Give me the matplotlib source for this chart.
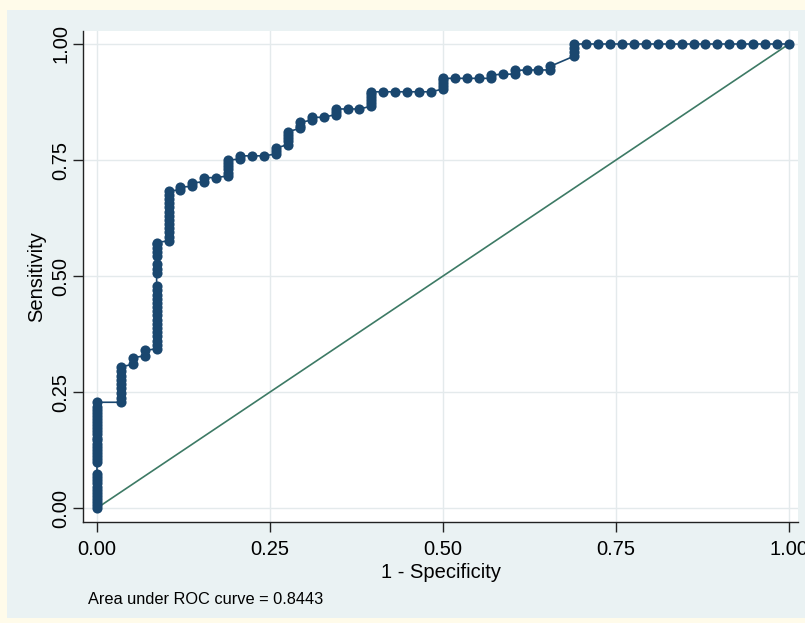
import matplotlib
matplotlib.use("Agg")
import matplotlib.pyplot as plt
from matplotlib.patches import Rectangle

# ---- data ----
fpr = (
    [0.0] * 32
    + [2/58] * 9
    + [3/58] * 2
    + [4/58] * 2
    + [5/58] * 24
    + [6/58] * 13
    + [7/58] * 2
    + [8/58] * 2
    + [9/58] * 2
    + [10/58]
    + [11/58] * 6
    + [12/58] * 2
    + [13/58, 14/58]
    + [15/58] * 3
    + [16/58] * 5
    + [17/58] * 3
    + [18/58] * 2
    + [19/58]
    + [20/58] * 3
    + [21/58, 22/58]
    + [23/58] * 6
    + [24/58, 25/58, 26/58, 27/58, 28/58]
    + [29/58] * 5
    + [30/58, 31/58, 32/58]
    + [33/58] * 2
    + [34/58]
    + [35/58] * 2
    + [36/58, 37/58]
    + [38/58] * 2
    + [40/58] * 4
    + [41/58, 42/58, 43/58, 44/58, 45/58, 46/58, 47/58, 48/58, 49/58,
       50/58, 51/58, 52/58, 53/58, 54/58, 55/58, 56/58, 57/58, 1.0]
)
tpr = (
    [0.000, 0.007, 0.013, 0.020, 0.026, 0.033, 0.040, 0.046, 0.053, 0.060, 0.066, 0.073,
     0.099, 0.106, 0.113, 0.119, 0.126, 0.132, 0.139, 0.146, 0.152, 0.159,
     0.166, 0.172, 0.179, 0.185, 0.192, 0.199, 0.205, 0.212, 0.218, 0.228]
    + [0.228, 0.238, 0.248, 0.258, 0.267, 0.276, 0.285, 0.295, 0.304]
    + [0.310, 0.324]
    + [0.328, 0.340]
    + [0.343, 0.352, 0.361, 0.370, 0.379, 0.388, 0.397, 0.406, 0.415, 0.424,
       0.433, 0.442, 0.451, 0.460, 0.469, 0.478,
       0.507, 0.516, 0.525,
       0.543, 0.552, 0.561, 0.569, 0.572]
    + [0.576, 0.585, 0.594, 0.603, 0.612, 0.621, 0.630, 0.639, 0.648, 0.657,
       0.666, 0.675, 0.683]
    + [0.686, 0.692]
    + [0.693, 0.701]
    + [0.703, 0.712]
    + [0.712]
    + [0.716, 0.723, 0.730, 0.737, 0.744, 0.750]
    + [0.752, 0.759]
    + [0.759, 0.759]
    + [0.763, 0.770, 0.776]
    + [0.783, 0.790, 0.797, 0.804, 0.811]
    + [0.818, 0.824, 0.831]
    + [0.836, 0.842]
    + [0.842]
    + [0.848, 0.854, 0.860]
    + [0.860, 0.860]
    + [0.866, 0.873, 0.879, 0.886, 0.892, 0.897]
    + [0.897, 0.897, 0.897, 0.897, 0.897]
    + [0.903, 0.910, 0.916, 0.922, 0.926]
    + [0.926, 0.926, 0.926]
    + [0.926, 0.933]
    + [0.935]
    + [0.935, 0.943]
    + [0.944, 0.944]
    + [0.944, 0.952]
    + [0.974, 0.983, 0.991, 1.000]
    + [1.0] * 18
)
ref_x = [0.0, 1.0]
ref_y = [0.0, 1.0]
xticks = [0.0, 0.25, 0.5, 0.75, 1.0]
yticks = [0.0, 0.25, 0.5, 0.75, 1.0]
tick_labels = ["0.00", "0.25", "0.50", "0.75", "1.00"]
auc_text = "Area under ROC curve = 0.8443"

# ---- styling ----
plt.rcParams['font.family'] = ['Liberation Sans', 'DejaVu Sans']
W, H = 805, 623
fig = plt.figure(figsize=(W / 100, H / 100), dpi=100)
fig.patch.set_facecolor('#fffbea')
# inner bluish panel
fig.patches.append(Rectangle((7 / W, 5 / H), 1 - 7 / W, 1 - 15 / H,
                             transform=fig.transFigure, facecolor='#eaf2f3',
                             edgecolor='none', zorder=-5))

ax = fig.add_axes([83 / W, 1 - 522 / H, (798 - 83) / W, (522 - 31) / H])
ax.set_zorder(2)
ax.set_facecolor('white')
ax.set_xlim(-0.0202, 1.013)
ax.set_ylim(-0.030, 1.028)

for v in xticks:
    ax.axvline(v, color='#e4eaec', lw=1.0, zorder=0)
for v in yticks:
    ax.axhline(v, color='#e4eaec', lw=1.0, zorder=0)

navy = '#1a476f'
ax.plot(ref_x, ref_y, color='#3d7a65', lw=1.2, zorder=2)
ax.plot(fpr, tpr, color=navy, lw=1.2, marker='o', markersize=7.3,
        markeredgewidth=0, markerfacecolor=navy, zorder=3)

ax.set_xticks(xticks)
ax.set_xticklabels(tick_labels, fontsize=14.5)
ax.set_yticks(yticks)
ax.set_yticklabels(tick_labels, fontsize=14.5, rotation=90, va='center')
ax.tick_params(direction='out', length=7, width=1.0, color='#222222')
ax.tick_params(axis='x', pad=6)
ax.tick_params(axis='y', pad=2)

for s in ['top', 'right']:
    ax.spines[s].set_visible(False)
for s in ['left', 'bottom']:
    ax.spines[s].set_color('#222222')
    ax.spines[s].set_linewidth(1.0)

ax.set_xlabel("1 - Specificity", fontsize=14.5, labelpad=3)
ax.set_ylabel("Sensitivity", fontsize=14.5, labelpad=4)

fig.text(88 / W, 1 - 600 / H, auc_text, fontsize=11.8, va='center', ha='left')

fig.savefig("out.png", dpi=100, facecolor=fig.get_facecolor())
